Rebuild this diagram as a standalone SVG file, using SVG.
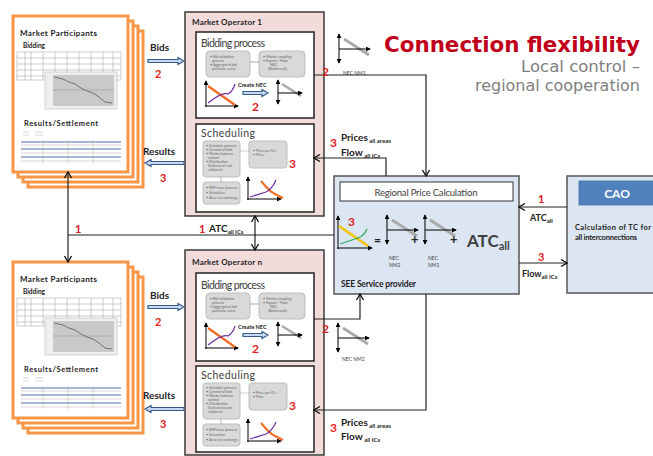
<svg xmlns="http://www.w3.org/2000/svg" xmlns:xlink="http://www.w3.org/1999/xlink" width="653" height="456" viewBox="0 0 653 456">
<defs>
<style>
.lbl{font-family:Lato,"Liberation Sans",sans-serif;font-weight:bold;fill:#222}
.reg{font-family:Lato,"Liberation Sans",sans-serif;fill:#404040}
.red{font-family:Lato,"Liberation Sans",sans-serif;font-weight:bold;fill:#e0201c}
.tiny{font-family:Lato,"Liberation Sans",sans-serif;font-size:3.6px;fill:#666}
.mo{fill:#f2dcdb;stroke:#3a3a3a;stroke-width:1.5}
.inner{fill:#fff;stroke:#222;stroke-width:1.5}
.gbox{fill:#d9d9d9;stroke:#bdbdbd;stroke-width:1}
.conn{fill:none;stroke:#222;stroke-width:1.2}
.page{fill:#fff;stroke:#f79646;stroke-width:3}
.blk{fill:#c6d9f1;stroke:#385d8a;stroke-width:1.2}
.ax{fill:none;stroke:#000;stroke-width:1}
.ttl{font-family:"DejaVu Sans",Verdana,sans-serif}
</style>
<marker id="ah" viewBox="0 0 8 8" refX="7" refY="4" markerWidth="8" markerHeight="8" orient="auto-start-reverse" markerUnits="userSpaceOnUse">
<path d="M1,0.5 L7,4 L1,7.5" fill="none" stroke="#111" stroke-width="1.3"/>
</marker>
<marker id="tri" viewBox="0 0 6 6" refX="5" refY="3" markerWidth="5" markerHeight="5" orient="auto-start-reverse" markerUnits="userSpaceOnUse">
<path d="M0,0 L6,3 L0,6 z" fill="#000"/>
</marker>
<g id="pagecontent">
<rect class="page" x="15" y="15" width="115" height="156"/>
<rect class="page" x="10" y="10" width="115" height="156"/>
<rect class="page" x="5" y="5" width="115" height="156"/>
<rect class="page" x="0" y="0" width="115" height="156"/>
<text class="lbl" x="7" y="20" font-size="8" textLength="77">Market Participants</text>
<text class="lbl" x="10" y="32" font-size="6.5">Bidding</text>
<g stroke="#9a9a9a" stroke-width="0.5" fill="none">
<rect x="4" y="36" width="104" height="28"/>
<path d="M4,42H108M4,48H108M4,54H108M4,60H108M12,36V64M18,36V64M30,36V64M42,36V57M54,36V57M66,36V57M78,36V57M90,36V57M100,36V57"/>
</g>
<rect x="32" y="56" width="72" height="37" fill="#efefef" stroke="#bbb" stroke-width="0.6"/>
<rect x="40" y="59" width="61" height="31" fill="#c9c9c9"/>
<path d="M40,74H101" stroke="#999" stroke-width="0.6"/>
<path d="M41,61 L50,63 L56,66 L62,68 L68,72 L74,75 L80,77 L86,81 L92,86 L99,87" fill="none" stroke="#666" stroke-width="0.9"/>
<text class="lbl" x="11" y="110" font-size="7.5" textLength="74">Results/Settlement</text>
<g stroke="#aaa" stroke-width="0.5"><path d="M10,116H16M10,119H16M22,116H30M22,119H30"/></g>
<g stroke="#4f6fa8" stroke-width="1"><path d="M8,126H108M8,133H108M8,141H108"/></g>
<g stroke="#aaa" stroke-width="0.5"><path d="M8,129H108M8,137H108M8,145H108M30,124V147M55,124V147M80,124V147"/></g>
</g>
<g id="nec">
<path class="ax" d="M0,0V29" marker-start="url(#tri)" marker-end="url(#tri)"/>
<path d="M5,5 L30,21" stroke="#aaa" stroke-width="3"/>
<path class="ax" d="M0,15H31" marker-end="url(#tri)"/>
</g>
<g id="necs">
<path class="ax" d="M0,0V24" marker-start="url(#tri)" marker-end="url(#tri)"/>
<path d="M4,4 L23,16" stroke="#aaa" stroke-width="2.5"/>
<path class="ax" d="M0,13H24" marker-end="url(#tri)"/>
</g>
<g id="biddingcontent">
<text class="reg" x="201" y="51" font-size="10.5" textLength="64">Bidding process</text>
<rect class="gbox" x="206" y="55" width="44" height="26" rx="4"/>
<rect class="gbox" x="259" y="55" width="46" height="26" rx="4"/>
<path d="M250,66H259" stroke="#888" stroke-width="0.7"/>
<text class="tiny" x="210" y="62">• Bid validation</text>
<text class="tiny" x="212" y="66">process</text>
<text class="tiny" x="210" y="70">• Aggregated bid</text>
<text class="tiny" x="212" y="74">purchase curve</text>
<text class="tiny" x="263" y="62">• Market coupling</text>
<text class="tiny" x="263" y="66">• Export / Flow</text>
<text class="tiny" x="270" y="70">NEC</text>
<text class="tiny" x="268" y="74">(Bottleneck)</text>
<path class="ax" d="M206,111V85" marker-end="url(#tri)"/>
<path class="ax" d="M205,110H238" marker-end="url(#tri)"/>
<path d="M208,90 L235,109" stroke="#f26b21" stroke-width="2.2" fill="none"/>
<path d="M208,107 Q222,96 228,98 Q233,95 235,88" stroke="#7030a0" stroke-width="1.2" fill="none"/>
<text class="lbl" x="238" y="91" font-size="5.5">Create NEC</text>
<path class="blk" d="M243,95.5H262V93.5L268,97L262,100.5V98.5H243Z"/>
<text class="red" x="252" y="115" font-size="12">2</text>
<use xlink:href="#necs" x="278" y="84"/>
</g>
<g id="schedcontent">
<text class="reg" x="201" y="141" font-size="10.5" textLength="54">Scheduling</text>
<rect class="gbox" x="203" y="145" width="37" height="36" rx="3"/>
<rect class="gbox" x="249" y="145" width="38" height="27" rx="3"/>
<rect class="gbox" x="203" y="186" width="37" height="22" rx="3"/>
<path d="M240,155H249" stroke="#888" stroke-width="0.6" stroke-dasharray="1.5,1"/>
<path d="M221,181V186" stroke="#888" stroke-width="0.6"/>
<text class="tiny" x="206" y="151">• Schedule process</text>
<text class="tiny" x="206" y="155">• Control of bids</text>
<text class="tiny" x="206" y="159">• Market balance</text>
<text class="tiny" x="208" y="163">control</text>
<text class="tiny" x="206" y="167">• Distribution</text>
<text class="tiny" x="208" y="171">Settlement and</text>
<text class="tiny" x="208" y="175">collateral</text>
<text class="tiny" x="253" y="156">• Price per ICs</text>
<text class="tiny" x="253" y="160">• Price</text>
<text class="tiny" x="206" y="193">• RRP issue process</text>
<text class="tiny" x="206" y="198">• Schedules</text>
<text class="tiny" x="206" y="203">• Area net exchange</text>
<path class="ax" d="M248,204V181" marker-end="url(#tri)"/>
<path class="ax" d="M247,203H281" marker-end="url(#tri)"/>
<path d="M261,185 Q270,196 275,198 Q279,200 283,202" stroke="#f26b21" stroke-width="2" fill="none"/>
<path d="M250,201 L266,196 Q272,193 276,184" stroke="#7030a0" stroke-width="1.2" fill="none"/>
<text class="red" x="289" y="172" font-size="12">3</text>
</g>
</defs>

<rect width="653" height="456" fill="#fff"/>

<g id="title">
<text class="ttl" x="640" y="52" text-anchor="end" font-weight="bold" font-size="21" fill="#c0001a" textLength="256" lengthAdjust="spacingAndGlyphs">Connection flexibility</text>
<text class="ttl" x="640" y="72" text-anchor="end" font-size="15.5" fill="#7f7f7f" textLength="119" lengthAdjust="spacingAndGlyphs">Local control –</text>
<text class="ttl" x="640" y="91" text-anchor="end" font-size="15.5" fill="#7f7f7f" textLength="165" lengthAdjust="spacingAndGlyphs">regional cooperation</text>
</g>

<g id="participants-top">
<use xlink:href="#pagecontent" x="13" y="16"/>
</g>
<g id="participants-bottom">
<use xlink:href="#pagecontent" x="13" y="262"/>
</g>

<g id="market-operator-1">
<rect class="mo" x="185" y="12" width="139" height="204"/>
<text class="lbl" x="192" y="25" font-size="8" textLength="70">Market Operator 1</text>
<g id="mo1-bidding">
<rect class="inner" x="196" y="32" width="118" height="86"/>
<use xlink:href="#biddingcontent" x="0" y="-4"/>
</g>
<g id="mo1-scheduling">
<rect class="inner" x="196" y="124" width="118" height="88"/>
<use xlink:href="#schedcontent" x="0" y="-4"/>
</g>
</g>

<g id="market-operator-n">
<rect class="mo" x="185" y="250" width="139" height="205"/>
<text class="lbl" x="192" y="265" font-size="8" textLength="70">Market Operator n</text>
<g id="mon-bidding">
<rect class="inner" x="196" y="273" width="118" height="88"/>
<use xlink:href="#biddingcontent" x="0" y="238"/>
</g>
<g id="mon-scheduling">
<rect class="inner" x="196" y="366" width="118" height="86"/>
<use xlink:href="#schedcontent" x="0" y="238"/>
</g>
</g>

<g id="nec-nm1">
<use xlink:href="#nec" x="339" y="34"/>
<text class="reg" x="343" y="75" font-size="5" fill="#333">NEC NM1</text>
</g>
<g id="nec-nm2">
<use xlink:href="#nec" x="338" y="323"/>
<text class="reg" x="342" y="361" font-size="5" fill="#333">NEC NM2</text>
</g>

<g id="regional-price-calculation">
<rect x="334" y="176" width="185" height="118" fill="#dce6f2" stroke="#555" stroke-width="1.5"/>
<rect x="340" y="182" width="173" height="19" fill="#fff" stroke="#333" stroke-width="1"/>
<text class="reg" x="426" y="195.5" font-size="9.5" text-anchor="middle" textLength="103" fill="#333">Regional Price Calculation</text>
<text class="red" x="348" y="226" font-size="12">3</text>
<path class="ax" d="M338,249V216" marker-end="url(#tri)"/>
<path class="ax" d="M337,248H372" marker-end="url(#tri)"/>
<path d="M339,226 L368,246" stroke="#f2c500" stroke-width="2.5" fill="none"/>
<path d="M340,244 L358,238 Q364,236 367,229" stroke="#2eaa5a" stroke-width="1.3" fill="none"/>
<text class="lbl" x="374" y="244" font-size="12" fill="#333">=</text>
<use xlink:href="#nec" x="387" y="215"/>
<text class="lbl" x="411" y="244" font-size="13" fill="#333">+</text>
<use xlink:href="#nec" x="425" y="215"/>
<text class="lbl" x="450" y="244" font-size="13" fill="#333">+</text>
<text class="reg" x="467" y="247" font-size="17" fill="#222" font-weight="bold">ATC<tspan font-size="11" dy="3">all</tspan></text>
<text class="reg" x="389" y="260" font-size="5" fill="#333">NEC</text>
<text class="reg" x="389" y="267" font-size="5" fill="#333">NM2</text>
<text class="reg" x="428" y="260" font-size="5" fill="#333">NEC</text>
<text class="reg" x="428" y="267" font-size="5" fill="#333">NM1</text>
<text class="lbl" x="341" y="287" font-size="8.5" textLength="75">SEE Service provider</text>
</g>

<g id="cao">
<rect x="567" y="176" width="90" height="117" fill="#dce6f2" stroke="#555" stroke-width="1.5"/>
<rect x="579" y="181" width="78" height="24" fill="#4f81bd" stroke="#41709f" stroke-width="0.8"/>
<text x="617" y="198" font-family="Lato,'Liberation Sans',sans-serif" font-weight="bold" font-size="12" fill="#fff" text-anchor="middle">CAO</text>
<text class="lbl" x="575" y="230" font-size="7.5" textLength="76">Calculation of TC for</text>
<text class="lbl" x="575" y="240" font-size="7.5" textLength="62">all interconnections</text>
</g>

<g id="connectors">
<path class="conn" d="M68,262V172" marker-start="url(#ah)" marker-end="url(#ah)"/>
<path class="conn" d="M68,235H334"/>
<path class="conn" d="M255,216V250" marker-start="url(#ah)" marker-end="url(#ah)"/>
<path class="conn" d="M314,75H426V176" marker-end="url(#ah)"/>
<path class="conn" d="M386,176V158H314" marker-end="url(#ah)"/>
<path class="conn" d="M314,319H360V294" marker-end="url(#ah)"/>
<path class="conn" d="M426,294V410H314" marker-end="url(#ah)"/>
<path class="conn" d="M567,207H519" marker-end="url(#ah)"/>
<path class="conn" d="M519,263H567" marker-end="url(#ah)"/>
<path class="blk" d="M148,59.5H178V57.5L184,61L178,64.5V62.5H148Z"/>
<path class="blk" d="M184,161.5H151V159.5L145,163L151,166.5V164.5H184Z"/>
<path class="blk" d="M148,305.5H178V303.5L184,307L178,310.5V308.5H148Z"/>
<path class="blk" d="M184,407.5H151V405.5L145,409L151,412.5V410.5H184Z"/>
</g>

<g id="labels">
<text class="lbl" x="150" y="51" font-size="10">Bids</text>
<text class="red" x="155" y="78" font-size="11">2</text>
<text class="lbl" x="143" y="155" font-size="10">Results</text>
<text class="red" x="160" y="182" font-size="11">3</text>
<text class="lbl" x="150" y="299" font-size="10">Bids</text>
<text class="red" x="155" y="326" font-size="11">2</text>
<text class="lbl" x="143" y="399" font-size="10">Results</text>
<text class="red" x="160" y="428" font-size="11">3</text>
<text class="red" x="75" y="233" font-size="11">1</text>
<text class="red" x="199" y="233" font-size="11">1</text>
<text class="lbl" x="209" y="232" font-size="10">ATC<tspan font-size="6" dy="2">all ICs</tspan></text>
<text class="red" x="322" y="76" font-size="12">2</text>
<text class="red" x="322" y="333" font-size="12">2</text>
<text class="red" x="330" y="147" font-size="12">3</text>
<text class="lbl" x="341" y="141" font-size="10">Prices<tspan font-size="6" dy="2"> all areas</tspan></text>
<text class="lbl" x="341" y="156" font-size="10">Flow<tspan font-size="6" dy="2"> all ICs</tspan></text>
<text class="red" x="330" y="432" font-size="12">3</text>
<text class="lbl" x="341" y="426" font-size="10">Prices<tspan font-size="6" dy="2"> all areas</tspan></text>
<text class="lbl" x="341" y="440" font-size="10">Flow<tspan font-size="6" dy="2"> all ICs</tspan></text>
<text class="red" x="538" y="203" font-size="11">1</text>
<text class="lbl" x="530" y="221" font-size="9">ATC<tspan font-size="6" dy="2">all</tspan></text>
<text class="red" x="538" y="261" font-size="11">3</text>
<text class="lbl" x="522" y="277" font-size="9">Flow<tspan font-size="6" dy="2">all ICs</tspan></text>
</g>
</svg>
